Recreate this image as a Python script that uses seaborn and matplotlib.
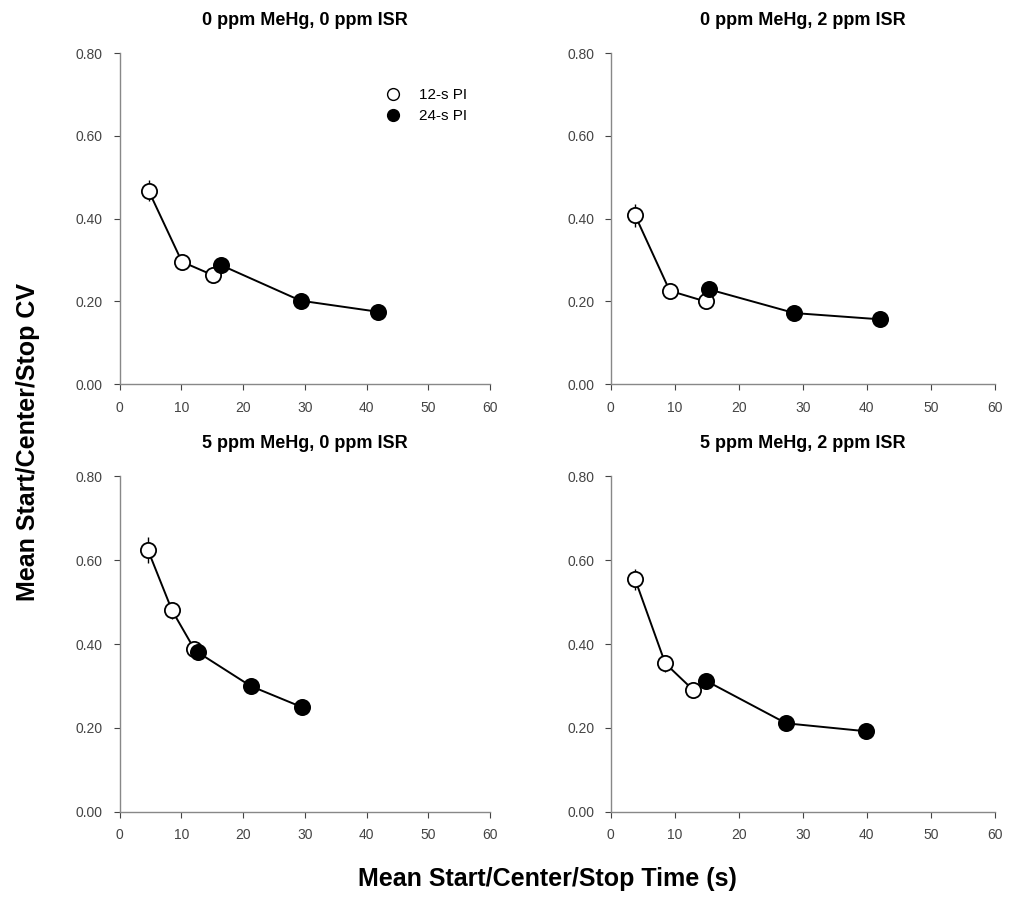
import matplotlib
matplotlib.use("Agg")
import matplotlib.pyplot as plt
import seaborn as sns
import pandas as pd
from matplotlib.lines import Line2D

# panel titles
titles = ["0 ppm MeHg, 0 ppm ISR", "0 ppm MeHg, 2 ppm ISR",
          "5 ppm MeHg, 0 ppm ISR", "5 ppm MeHg, 2 ppm ISR"]

# 12-s PI (open circles)
x12 = [[4.7, 10.1, 15.2], [3.8, 9.2, 14.8], [4.6, 8.5, 12.1], [3.8, 8.5, 12.9]]
y12 = [[0.468, 0.296, 0.263], [0.408, 0.226, 0.200], [0.624, 0.480, 0.388], [0.554, 0.354, 0.290]]
e12 = [[0.025, 0.015, 0.008], [0.028, 0.015, 0.010], [0.032, 0.020, 0.015], [0.025, 0.020, 0.015]]

# 24-s PI (filled circles)
x24 = [[16.4, 29.3, 41.9], [15.4, 28.7, 42.0], [12.7, 21.2, 29.6], [14.8, 27.4, 39.9]]
y24 = [[0.288, 0.202, 0.175], [0.229, 0.172, 0.157], [0.380, 0.300, 0.249], [0.313, 0.211, 0.192]]
e24 = [[0.010, 0.008, 0.006], [0.010, 0.008, 0.006], [0.012, 0.008, 0.006], [0.010, 0.008, 0.006]]

xticks = [0, 10, 20, 30, 40, 50, 60]
yticks = [0.0, 0.2, 0.4, 0.6, 0.8]

sns.set_style("white")
plt.rcParams['font.family'] = ['Liberation Sans', 'DejaVu Sans']
plt.rcParams['text.color'] = 'black'

fig = plt.figure(figsize=(10.13, 9.02), dpi=100)
pos = [[0.118, 0.574, 0.366, 0.367], [0.603, 0.574, 0.379, 0.367],
       [0.118, 0.100, 0.366, 0.372], [0.603, 0.100, 0.379, 0.372]]

for i in range(4):
    ax = fig.add_axes(pos[i])
    df = pd.DataFrame({"x": x12[i] + x24[i], "y": y12[i] + y24[i],
                       "err": e12[i] + e24[i],
                       "pi": ["12-s PI"] * 3 + ["24-s PI"] * 3})
    # connecting line
    sns.lineplot(data=df, x="x", y="y", sort=True, estimator=None,
                 color="black", linewidth=1.4, ax=ax, zorder=2)
    # error bars
    ax.errorbar(df["x"], df["y"], yerr=df["err"], fmt="none",
                ecolor="black", elinewidth=1.0, capsize=0, zorder=2)
    sub = df[df["pi"] == "12-s PI"]
    sns.scatterplot(data=sub, x="x", y="y", s=120, color="white",
                    edgecolor="black", linewidth=1.3, ax=ax, zorder=3)
    sub = df[df["pi"] == "24-s PI"]
    sns.scatterplot(data=sub, x="x", y="y", s=120, color="black",
                    edgecolor="black", linewidth=1.3, ax=ax, zorder=3)

    ax.set_xlim(0, 60)
    ax.set_ylim(0, 0.8)
    ax.set_xticks(xticks)
    ax.set_yticks(yticks)
    ax.set_yticklabels(["{:.2f}".format(v) for v in yticks])
    ax.set_xlabel("")
    ax.set_ylabel("")
    ax.tick_params(axis="both", labelsize=10, colors="#444444",
                   direction="out", length=4, width=0.8, bottom=True, left=True)
    ax.tick_params(axis="x", pad=8)
    ax.tick_params(axis="y", pad=8)
    for s in ["top", "right"]:
        ax.spines[s].set_visible(False)
    for s in ["left", "bottom"]:
        ax.spines[s].set_color("#888888")
        ax.spines[s].set_linewidth(1.0)
    ax.set_title(titles[i], fontsize=13, fontweight="bold", pad=20, color="black")

    if i == 0:
        handles = [Line2D([], [], marker="o", linestyle="none", markersize=8.5,
                          markerfacecolor="white", markeredgecolor="black"),
                   Line2D([], [], marker="o", linestyle="none", markersize=8.5,
                          markerfacecolor="black", markeredgecolor="black")]
        ax.legend(handles, ["12-s PI", "24-s PI"], loc="upper left",
                  bbox_to_anchor=(0.66, 0.935), frameon=False, fontsize=11,
                  handletextpad=0.7, labelspacing=0.45)

fig.text(0.028, 0.51, "Mean Start/Center/Stop CV", rotation=90,
         ha="center", va="center", fontsize=18, fontweight="bold")
fig.text(0.54, 0.025, "Mean Start/Center/Stop Time (s)",
         ha="center", va="center", fontsize=18, fontweight="bold")

fig.savefig("out.png", dpi=100)
